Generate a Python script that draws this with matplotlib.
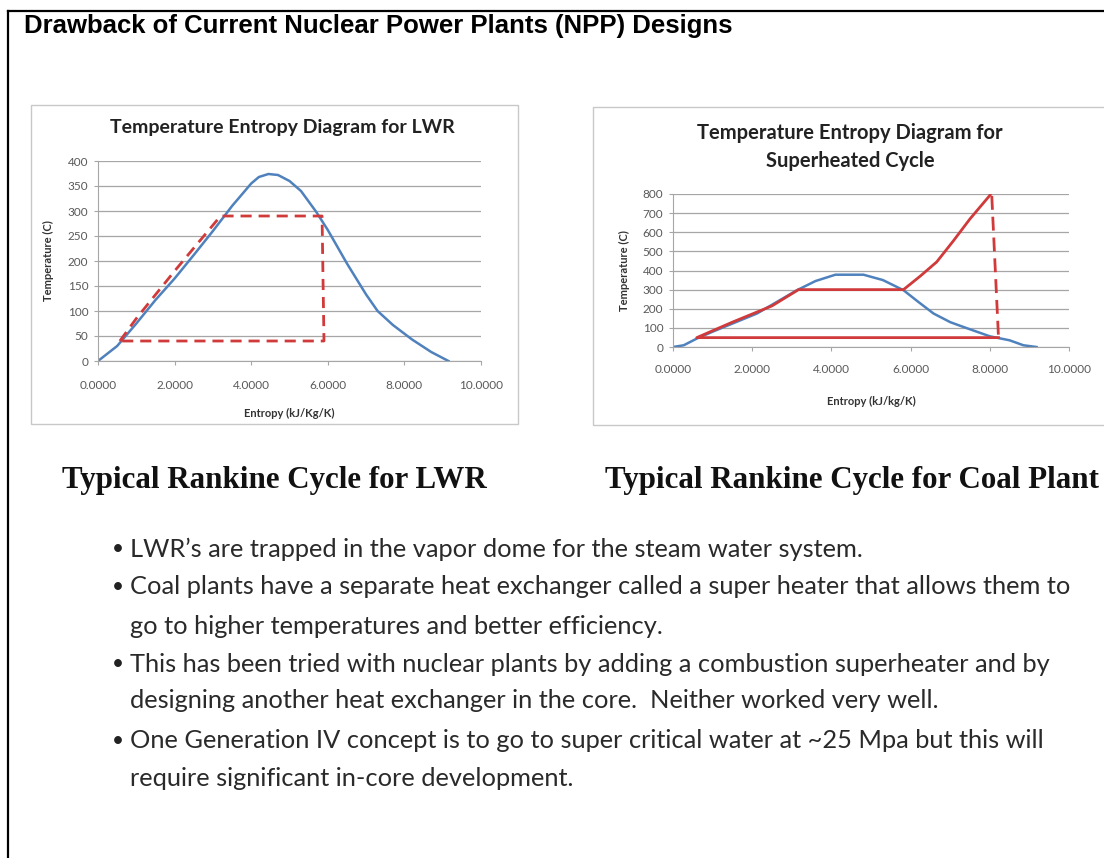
import matplotlib.pyplot as plt
from matplotlib.patches import Rectangle
from matplotlib.lines import Line2D

W, H = 1104, 858

# saturation dome (LWR chart)
lwr_dome_s = [0, 0.5, 1.0, 1.5, 2.0, 2.5, 3.0, 3.5, 4.0, 4.2, 4.45, 4.7, 5.0, 5.3,
              5.7, 6.0, 6.5, 7.0, 7.3, 7.7, 8.2, 8.7, 9.15]
lwr_dome_t = [0, 30, 75, 122, 165, 212, 260, 310, 355, 368, 374, 372, 360, 340,
              298, 262, 195, 133, 100, 72, 43, 18, 0]
# rankine cycle (LWR chart)
lwr_cycle_s = [0.57, 1.0, 2.0, 3.2, 5.85, 5.9, 0.57]
lwr_cycle_t = [40, 85, 180, 290, 290, 40, 40]

# saturation dome (superheated chart)
sh_dome_s = [0, 0.27, 0.6, 1.0, 2.12, 3.13, 3.6, 4.1, 4.81, 5.3, 5.82, 6.2, 6.58,
             7.0, 7.33, 8.0, 8.5, 8.85, 9.18]
sh_dome_t = [0, 9, 44, 80, 175, 297, 345, 378, 378, 350, 297, 235, 175, 130, 105,
             56, 35, 9, 0]
# superheated cycle
sh_cycle_s = [8.22, 0.6, 1.5, 2.5, 3.17, 5.82, 6.24, 6.66, 7.08, 7.5, 8.01]
sh_cycle_t = [49, 49, 130, 215, 300, 300, 370, 445, 555, 670, 795]
sh_drop_s = [8.05, 8.22]
sh_drop_t = [790, 49]

lwr_yticks = list(range(0, 401, 50))
sh_yticks = list(range(0, 801, 100))
xticks = [0, 2, 4, 6, 8, 10]

bullets = [
    (True, "LWR\u2019s are trapped in the vapor dome for the steam water system."),
    (True, "Coal plants have a separate heat exchanger called a super heater that allows them to"),
    (False, "go to higher temperatures and better efficiency."),
    (True, "This has been tried with nuclear plants by adding a combustion superheater and by"),
    (False, "designing another heat exchanger in the core.  Neither worked very well."),
    (True, "One Generation IV concept is to go to super critical water at ~25 Mpa but this will"),
    (False, "require significant in-core development."),
]
bullet_y = [549, 587, 626, 664, 701, 741, 779]

BLUE = '#4f81bd'
RED = '#d03a3a'
GRID = '#a6a6a6'
TICK = '#595959'

plt.rcParams['font.family'] = ['Lato', 'DejaVu Sans']


def rect(l, t, r, b):
    return [l / W, 1 - b / H, (r - l) / W, (b - t) / H]


def fx(x):
    return x / W


def fy(y):
    return 1 - y / H


fig = plt.figure(figsize=(W / 100, H / 100), dpi=100)

# outer frame
fig.add_artist(Line2D([fx(8), fx(8)], [fy(11), fy(858)], color='black', lw=1.6))
fig.add_artist(Line2D([fx(8), fx(1104)], [fy(11), fy(11)], color='black', lw=1.6))

fig.text(fx(24), fy(26), "Drawback of Current Nuclear Power Plants (NPP) Designs",
         fontsize=18.5, fontweight='bold', family='Liberation Sans', va='center', ha='left')

# chart boxes
fig.add_artist(Rectangle((fx(31), fy(424)), (518 - 31) / W, (424 - 105) / H,
                         transform=fig.transFigure, fill=False, ec='#c8c8c8', lw=1))
fig.add_artist(Rectangle((fx(593), fy(425)), (1110 - 593) / W, (425 - 107) / H,
                         transform=fig.transFigure, fill=False, ec='#c8c8c8', lw=1))


def style(ax, yticks, xpad):
    ax.set_xlim(0, 10)
    ax.set_ylim(0, yticks[-1])
    ax.set_xticks(xticks)
    ax.set_xticklabels(["%.4f" % v for v in xticks])
    ax.set_yticks(yticks)
    ax.grid(axis='y', color=GRID, lw=0.9)
    ax.set_axisbelow(True)
    for s in ['top', 'right']:
        ax.spines[s].set_visible(False)
    for s in ['left', 'bottom']:
        ax.spines[s].set_color(GRID)
    ax.tick_params(colors=GRID, labelcolor=TICK, labelsize=8.5, length=3)
    ax.tick_params(axis='y', pad=4)
    ax.tick_params(axis='x', pad=xpad)


ax1 = fig.add_axes(rect(98, 161, 481, 361))
style(ax1, lwr_yticks, 11)
ax1.plot(lwr_dome_s, lwr_dome_t, color=BLUE, lw=1.8)
ax1.plot(lwr_cycle_s, lwr_cycle_t, color=RED, lw=2, dashes=(4, 2.5))
ax1.set_ylabel("Temperature (C)", fontsize=8, fontweight='bold', color='#333333', labelpad=10)
ax1.set_xlabel("Entropy (kJ/Kg/K)", fontsize=8, fontweight='bold', color='#333333', labelpad=12)
fig.text(fx(282), fy(127), "Temperature Entropy Diagram for LWR", fontsize=14,
         fontweight='bold', ha='center', va='center', color='#222222')

ax2 = fig.add_axes(rect(673, 194, 1069, 347))
style(ax2, sh_yticks, 9)
ax2.plot(sh_dome_s, sh_dome_t, color=BLUE, lw=1.8)
ax2.plot(sh_cycle_s, sh_cycle_t, color=RED, lw=2)
ax2.plot(sh_drop_s, sh_drop_t, color=RED, lw=2, dashes=(5, 2.5))
ax2.set_ylabel("Temperature (C)", fontsize=8, fontweight='bold', color='#333333', labelpad=9)
ax2.set_xlabel("Entropy (kJ/kg/K)", fontsize=8, fontweight='bold', color='#333333', labelpad=15)
fig.text(fx(850), fy(133), "Temperature Entropy Diagram for", fontsize=14.5,
         fontweight='bold', ha='center', va='center', color='#222222')
fig.text(fx(850), fy(161), "Superheated Cycle", fontsize=14.5,
         fontweight='bold', ha='center', va='center', color='#222222')

fig.text(fx(62), fy(480), "Typical Rankine Cycle for LWR", fontsize=22.3,
         family='Liberation Serif', fontweight='bold', ha='left', va='center', color='#111111')
fig.text(fx(605), fy(480), "Typical Rankine Cycle for Coal Plant", fontsize=22.3,
         family='Liberation Serif', fontweight='bold', ha='left', va='center', color='#111111')

for (has_bullet, line), y in zip(bullets, bullet_y):
    if has_bullet:
        fig.text(fx(118), fy(y), "\u2022", fontsize=15, ha='center',
                 va='center', color='#222222')
    fig.text(fx(130), fy(y), line, fontsize=18.3, ha='left',
             va='center', color='#2a2a2a')

fig.savefig("out.png", dpi=100)
